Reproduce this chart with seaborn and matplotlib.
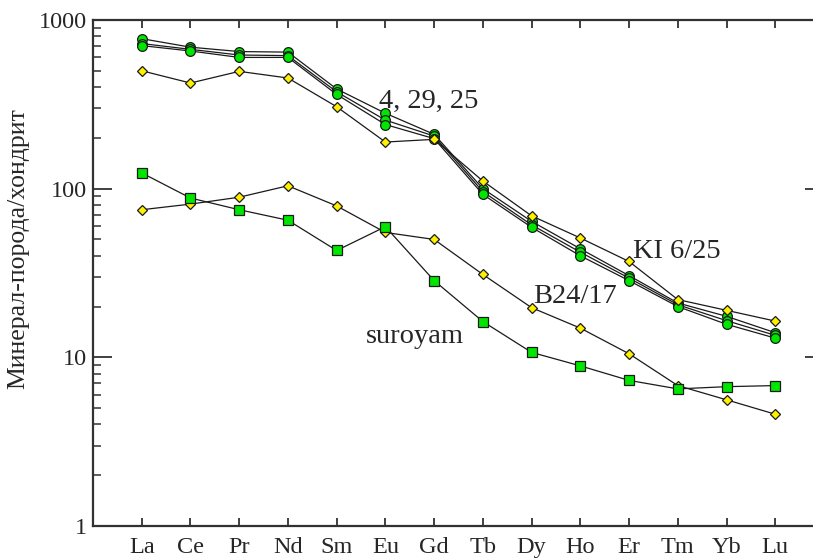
import matplotlib
matplotlib.use("Agg")
import matplotlib.pyplot as plt
import seaborn as sns
import numpy as np
import pandas as pd
from matplotlib.ticker import LogLocator, NullFormatter, FixedLocator

elements = ["La", "Ce", "Pr", "Nd", "Sm", "Eu", "Gd", "Tb", "Dy", "Ho", "Er", "Tm", "Yb", "Lu"]
s4 = [775, 690, 650, 645, 390, 280, 210, 100, 64, 44, 30.5, 21, 17.5, 14]
s29 = [725, 670, 620, 615, 375, 255, 205, 96, 61, 42, 29.5, 20.5, 16.5, 13.5]
s25 = [705, 655, 600, 600, 362, 240, 198, 92.5, 59, 40, 28.5, 20, 15.7, 13]
ki625 = [500, 423, 496, 453, 306, 189, 196, 111, 69, 51, 37, 22, 19, 16.4]
b2417 = [75, 81, 89, 104, 79, 55, 50, 31, 19.7, 14.9, 10.5, 6.8, 5.6, 4.6]
suroyam = [124, 88, 75, 65, 43, 59.5, 28.5, 16.3, 10.7, 8.9, 7.3, 6.5, 6.7, 6.8]
ytick_vals = [1, 10, 100, 1000]
ytick_labels = ["1", "10", "100", "1000"]

sns.set_style("ticks")
plt.rcParams["font.family"] = ["Liberation Serif", "DejaVu Serif"]

fig = plt.figure(figsize=(8.13, 5.59), dpi=100)
W, H = 813, 559
ax = fig.add_axes([93 / W, 1 - 526 / H, (824 - 93) / W, (526 - 20) / H])

green = "#00e600"
yellow = "#fff000"
edge = "#1a1a1a"
pos = np.arange(len(elements))

series = [
    (s4, "o", green, 7.0),
    (s29, "o", green, 7.0),
    (s25, "o", green, 7.0),
    (ki625, "D", yellow, 4.8),
    (b2417, "D", yellow, 4.8),
    (suroyam, "s", green, 6.6),
]
for vals, mk, fc, ms in series:
    sns.lineplot(x=pos, y=vals, ax=ax, color="#1a1a1a", linewidth=0.9,
                 marker=mk, markersize=ms, markerfacecolor=fc,
                 markeredgecolor=edge, markeredgewidth=0.9,
                 errorbar=None, sort=False)

ax.set_yscale("log")
ax.set_ylim(1, 1000)
ax.set_xlim(-1, 14)
ax.set_xticks(pos)
ax.set_xticklabels(elements)
ax.yaxis.set_major_locator(FixedLocator(ytick_vals))
ax.set_yticklabels(ytick_labels)
ax.yaxis.set_minor_locator(LogLocator(base=10, subs=np.arange(2, 10)))
ax.yaxis.set_minor_formatter(NullFormatter())
ax.xaxis.set_minor_locator(FixedLocator([]))

spine_c = "#333030"
for sp in ax.spines.values():
    sp.set_color(spine_c)
    sp.set_linewidth(1.6)

ax.tick_params(axis="x", which="major", direction="in", top=True, bottom=True,
               length=6, width=1.3, color=spine_c, labelsize=17.5, pad=8)
ax.tick_params(axis="y", which="major", direction="in", left=True, right=True,
               length=13.5, width=1.3, color=spine_c, labelsize=17.5, pad=4)
ax.tick_params(axis="y", which="minor", direction="in", left=True, right=True,
               length=6, width=1.1, color=spine_c)

ax.set_ylabel("Минерал-порода/хондрит", fontsize=18.5)
ax.yaxis.set_label_coords((29 - 93) / 731, (526 - 248.5) / 506)
ax.set_xlabel("")

ax.text(4.86, 300, "4, 29, 25", fontsize=20.5, ha="left", va="baseline")
ax.text(10.09, 38.8, "KI 6/25", fontsize=20.5, ha="left", va="baseline")
ax.text(8.04, 21.0, "B24/17", fontsize=20.5, ha="left", va="baseline")
ax.text(4.59, 12.2, "suroyam", fontsize=20.5, ha="left", va="baseline")

ax.set_facecolor("white")
fig.patch.set_facecolor("white")
fig.savefig("out.png", dpi=100)
